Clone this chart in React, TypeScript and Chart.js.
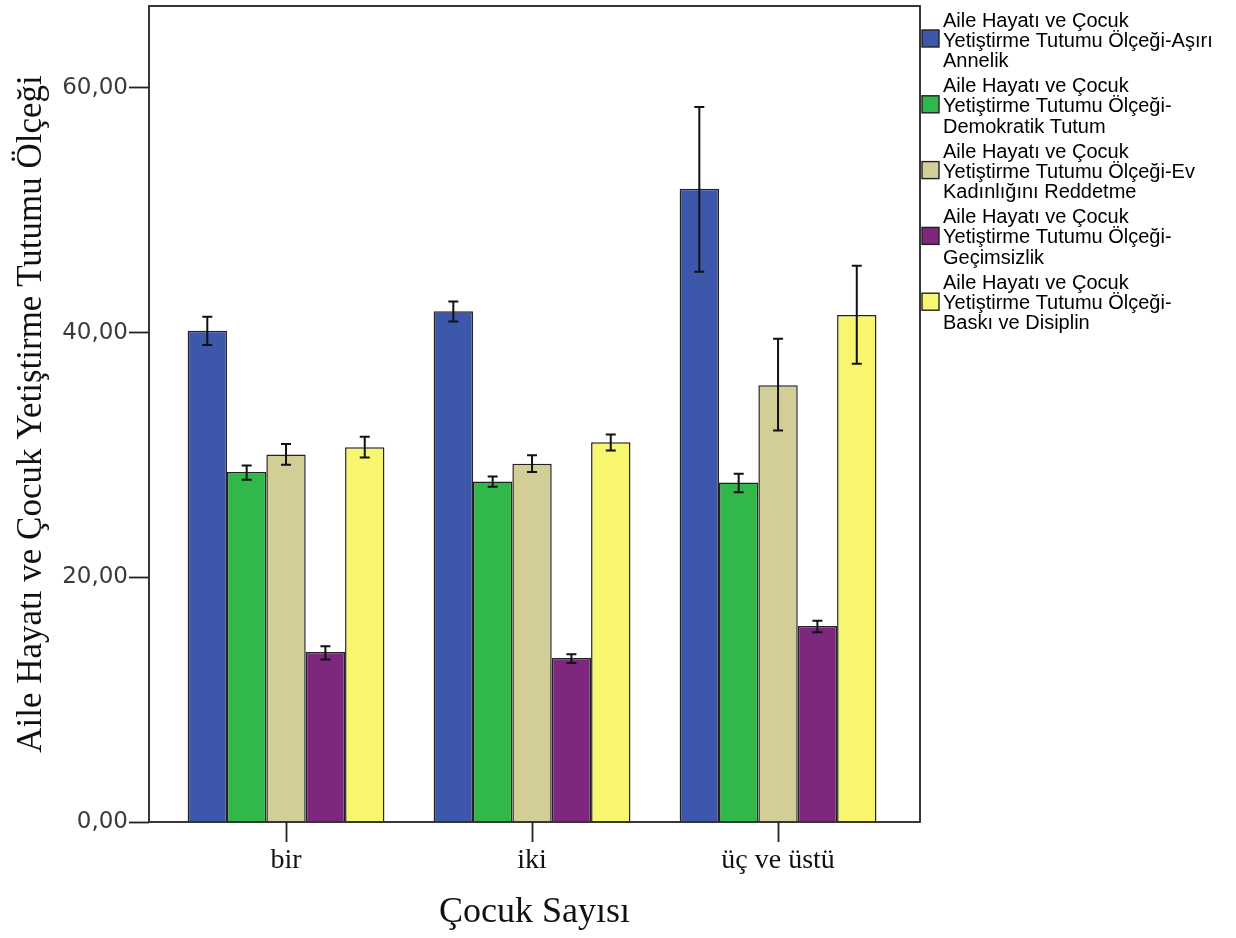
import React, { useEffect, useRef } from "react";
import { Chart, registerables } from "chart.js";

Chart.register(...registerables);

const categories = ["bir", "iki", "üç ve üstü"];

const seriesNames = [
  ["Aile Hayatı ve Çocuk", "Yetiştirme Tutumu Ölçeği-Aşırı", "Annelik"],
  ["Aile Hayatı ve Çocuk", "Yetiştirme Tutumu Ölçeği-", "Demokratik Tutum"],
  ["Aile Hayatı ve Çocuk", "Yetiştirme Tutumu Ölçeği-Ev", "Kadınlığını Reddetme"],
  ["Aile Hayatı ve Çocuk", "Yetiştirme Tutumu Ölçeği-", "Geçimsizlik"],
  ["Aile Hayatı ve Çocuk", "Yetiştirme Tutumu Ölçeği-", "Baskı ve Disiplin"],
];

const asiriAnnelik = [40.16, 41.74, 51.76];
const asiriAnnelikLow = [38.98, 40.92, 44.98];
const asiriAnnelikHigh = [41.3, 42.55, 58.45];

const demokratik = [28.6, 27.84, 27.75];
const demokratikLow = [27.97, 27.4, 26.96];
const demokratikHigh = [29.14, 28.24, 28.47];

const evKadinligi = [30.04, 29.28, 35.7];
const evKadinligiLow = [29.2, 28.6, 32.0];
const evKadinligiHigh = [30.9, 29.98, 39.5];

const gecimsizlik = [13.9, 13.4, 16.02];
const gecimsizlikLow = [13.28, 13.0, 15.51];
const gecimsizlikHigh = [14.37, 13.71, 16.46];

const baski = [30.64, 31.04, 41.44];
const baskiLow = [29.8, 30.37, 37.45];
const baskiHigh = [31.5, 31.67, 45.47];

const yTicks = [0, 20, 40, 60];

const colors = ["#3d58ab", "#30b84b", "#d3ce98", "#7d287d", "#f8f56f"];

const seriesValues = [asiriAnnelik, demokratik, evKadinligi, gecimsizlik, baski];
const seriesLow = [asiriAnnelikLow, demokratikLow, evKadinligiLow, gecimsizlikLow, baskiLow];
const seriesHigh = [asiriAnnelikHigh, demokratikHigh, evKadinligiHigh, gecimsizlikHigh, baskiHigh];

const framePlugin = {
  id: "frameAndExtras",
  beforeDraw(chart: any) {
    const ctx = chart.ctx;
    ctx.save();
    ctx.fillStyle = "#ffffff";
    ctx.fillRect(0, 0, chart.width, chart.height);
    ctx.restore();
  },
  afterDatasetsDraw(chart: any) {
    const ctx = chart.ctx;
    const y = chart.scales.y;
    ctx.save();
    ctx.strokeStyle = "#111";
    ctx.lineWidth = 2;
    chart.data.datasets.forEach((ds: any, i: number) => {
      const meta = chart.getDatasetMeta(i);
      meta.data.forEach((bar: any, j: number) => {
        const x = bar.x;
        const yh = y.getPixelForValue(seriesHigh[i][j]);
        const yl = y.getPixelForValue(seriesLow[i][j]);
        const cap = 5;
        ctx.beginPath();
        ctx.moveTo(x, yh);
        ctx.lineTo(x, yl);
        ctx.moveTo(x - cap, yh);
        ctx.lineTo(x + cap, yh);
        ctx.moveTo(x - cap, yl);
        ctx.lineTo(x + cap, yl);
        ctx.stroke();
      });
    });
    const a = chart.chartArea;
    ctx.strokeStyle = "#222";
    ctx.lineWidth = 1.8;
    ctx.strokeRect(a.left, a.top, a.right - a.left, a.bottom - a.top);
    ctx.restore();
  },
  afterDraw(chart: any) {
    const ctx = chart.ctx;
    const a = chart.chartArea;
    ctx.save();
    ctx.font = '20px "Liberation Sans", Arial, sans-serif';
    ctx.textBaseline = "middle";
    ctx.fillStyle = "#000";
    seriesNames.forEach((lines, k) => {
      const boxTop = 30 + 65.8 * k;
      const boxX = a.right + 2;
      ctx.fillStyle = colors[k];
      ctx.fillRect(boxX, boxTop, 17, 17);
      ctx.strokeStyle = "#222";
      ctx.lineWidth = 1.4;
      ctx.strokeRect(boxX, boxTop, 17, 17);
      ctx.fillStyle = "#000";
      lines.forEach((line, l) => {
        ctx.fillText(line, a.right + 23, 21 + 65.5 * k + 20.3 * l);
      });
    });
    ctx.restore();
  },
};

export default function App() {
  const ref = useRef<HTMLCanvasElement | null>(null);

  useEffect(() => {
    document.body.style.margin = "0";
    const canvas = ref.current;
    if (!canvas) return;
    const chart = new Chart(canvas, {
      type: "bar",
      data: {
        labels: categories,
        datasets: seriesValues.map((vals, i) => ({
          label: seriesNames[i].join(" "),
          data: vals,
          backgroundColor: colors[i],
          borderColor: "#222",
          borderWidth: 1.5,
          categoryPercentage: 0.8,
          barPercentage: 1,
        })),
      },
      options: {
        animation: false,
        responsive: false,
        layout: { padding: { top: 6, right: 316, left: 0, bottom: 0 } },
        plugins: {
          legend: { display: false },
          tooltip: { enabled: false },
        },
        scales: {
          x: {
            border: { display: false },
            grid: {
              drawOnChartArea: false,
              drawTicks: true,
              tickLength: 20,
              offset: false,
              color: "#222",
              tickWidth: 1.8,
            },
            ticks: {
              color: "#111",
              font: { family: '"Liberation Serif", "Times New Roman", serif', size: 28, lineHeight: 1.1 },
              padding: 3,
            },
            title: {
              display: true,
              text: "Çocuk Sayısı",
              color: "#111",
              font: { family: '"Liberation Serif", "Times New Roman", serif', size: 36, lineHeight: 1 },
              padding: { top: 0, bottom: 7 },
            },
            afterBuildTicks: (scale: any) => {
              scale._startValue = -0.557;
              scale._valueRange = 3.134;
            },
            afterFit: (scale: any) => {
              scale.height = 116;
              scale.paddingLeft = 0;
              scale.paddingRight = 0;
            },
          },
          y: {
            min: 0,
            max: 66.7,
            border: { display: false },
            grid: {
              drawOnChartArea: false,
              drawTicks: true,
              tickLength: 20,
              color: "#222",
              tickWidth: 1.8,
            },
            afterBuildTicks: (scale: any) => {
              scale.ticks = yTicks.map((v) => ({ value: v }));
            },
            ticks: {
              color: "#3a3a3a",
              font: { family: '"DejaVu Sans", sans-serif', size: 23 },
              padding: 1,
              callback: (v: any) => Number(v).toFixed(2).replace(".", ","),
            },
            title: {
              display: true,
              text: "Aile Hayatı ve Çocuk Yetiştirme Tutumu Ölçeği",
              color: "#111",
              font: { family: '"Liberation Serif", "Times New Roman", serif', size: 35, lineHeight: 1 },
              padding: { top: 14, bottom: 0 },
            },
            afterFit: (scale: any) => {
              scale.width = 149;
              scale.paddingTop = 0;
              scale.paddingBottom = 0;
            },
          },
        },
      },
      plugins: [framePlugin],
    });
    return () => chart.destroy();
  }, []);

  return (
    <div style={{ width: 1236, height: 938 }}>
      <canvas ref={ref} width={1236} height={938} style={{ display: "block" }} />
    </div>
  );
}
